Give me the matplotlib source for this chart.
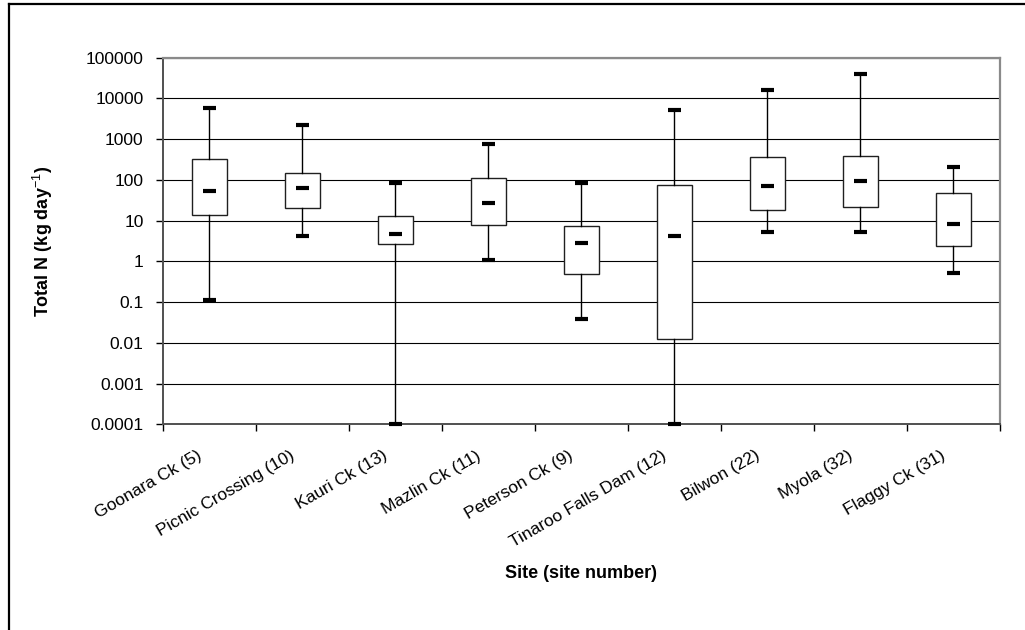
import matplotlib
matplotlib.use("Agg")
import matplotlib.pyplot as plt
import matplotlib.transforms as mtransforms
from matplotlib.lines import Line2D
import numpy as np

plt.rcParams['font.family'] = ['Liberation Sans', 'DejaVu Sans']
plt.rcParams['mathtext.fontset'] = 'custom'
plt.rcParams['mathtext.rm'] = 'Liberation Sans'
plt.rcParams['mathtext.bf'] = 'Liberation Sans:bold'

# Total N load per site: whisker ends, quartiles and median (kg/day)
sites = ['Goonara Ck (5)', 'Picnic Crossing (10)', 'Kauri Ck (13)', 'Mazlin Ck (11)',
         'Peterson Ck (9)', 'Tinaroo Falls Dam (12)', 'Bilwon (22)', 'Myola (32)',
         'Flaggy Ck (31)']
lowest = [0.11, 4.3, 0.0001, 1.1, 0.039, 0.0001, 5.2, 5.2, 0.52]
q1 = [13.9, 20, 2.7, 7.6, 0.48, 0.0123, 18, 22, 2.4]
median = [52, 63, 4.7, 26.5, 2.9, 4.2, 70, 93, 8.3]
q3 = [318, 147, 13.1, 113, 7.45, 76, 357, 385, 47]
highest = [5700, 2180, 83, 760, 83, 5200, 16400, 39800, 203]
ytick_vals = [0.0001, 0.001, 0.01, 0.1, 1, 10, 100, 1000, 10000, 100000]
ytick_text = ['0.0001', '0.001', '0.01', '0.1', '1', '10', '100', '1000', '10000', '100000']

fig = plt.figure(figsize=(10.25, 6.3), dpi=100)
ax = fig.add_axes([0.159, 0.3265, 0.8165, 0.5819])

stats = []
for i in range(len(sites)):
    stats.append({'whislo': lowest[i], 'q1': q1[i], 'med': median[i],
                  'q3': q3[i], 'whishi': highest[i], 'fliers': []})
pos = np.arange(1, len(sites) + 1)

bp = ax.bxp(stats, positions=pos, widths=0.376, patch_artist=True,
            showfliers=False, capwidths=0.14,
            boxprops=dict(facecolor='white', edgecolor='#202020', linewidth=1.0),
            whiskerprops=dict(color='black', linewidth=1.0),
            capprops=dict(color='black', linewidth=3.0, solid_capstyle='butt'),
            medianprops=dict(linewidth=0))
for art in bp['caps'] + bp['whiskers']:
    art.set_clip_on(False)
    art.set_zorder(4)
for b in bp['boxes']:
    b.set_zorder(3)

# short thick median dashes
ax.hlines(median, pos - 0.07, pos + 0.07, colors='black', linewidth=3.0, zorder=5)

ax.set_yscale('log')
ax.set_ylim(0.0001, 100000)
ax.set_xlim(0.5, len(sites) + 0.5)
ax.set_yticks(ytick_vals)
ax.set_yticklabels(ytick_text, fontsize=12.5)
ax.yaxis.set_minor_locator(matplotlib.ticker.NullLocator())
ax.tick_params(axis='y', which='major', direction='out', length=5, width=1, pad=9)
ax.yaxis.grid(True, which='major', color='black', linewidth=0.8)
ax.set_axisbelow(True)

# boundary ticks between sites, labels centred on each site
ax.set_xticks(np.arange(0.5, len(sites) + 1, 1.0))
ax.set_xticklabels([])
ax.set_xticks(pos, minor=True)
ax.set_xticklabels(sites, minor=True, fontsize=12.5, rotation=30,
                   ha='right', va='top', rotation_mode='anchor')
ax.tick_params(axis='x', which='major', direction='out', length=5, width=1)
ax.tick_params(axis='x', which='minor', length=0, pad=17)
shift = mtransforms.ScaledTranslation(-0.13, 0, fig.dpi_scale_trans)
for lbl in ax.get_xticklabels(minor=True):
    lbl.set_transform(lbl.get_transform() + shift)

for side in ['top', 'right']:
    ax.spines[side].set_color('#8a8a8a')
    ax.spines[side].set_linewidth(1.6)
for side in ['left', 'bottom']:
    ax.spines[side].set_color('#505050')
    ax.spines[side].set_linewidth(1.4)

ax.set_ylabel('Total N (kg day$^{-1}$)', fontsize=13, fontweight='bold')
ax.yaxis.set_label_coords(-0.129, 0.5)
ax.set_xlabel('Site (site number)', fontsize=13, fontweight='bold')
ax.xaxis.set_label_coords(0.5, -0.385)

# chart area border
fig.add_artist(Line2D([9 / 1025, 9 / 1025], [0, 1 - 4 / 630], color='black',
                      linewidth=1.6, transform=fig.transFigure))
fig.add_artist(Line2D([9 / 1025, 1], [1 - 4 / 630, 1 - 4 / 630], color='black',
                      linewidth=1.6, transform=fig.transFigure))

fig.savefig('out.png', dpi=100)
